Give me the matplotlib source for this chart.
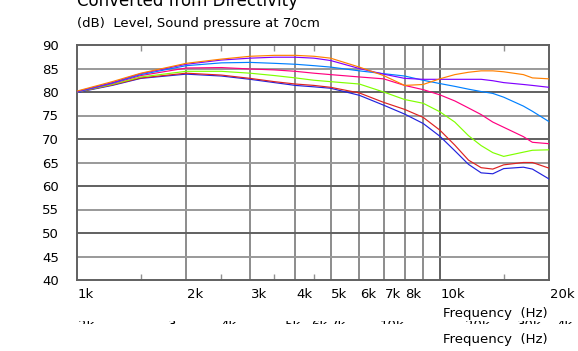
import matplotlib
matplotlib.use('Agg')
import matplotlib.pyplot as plt

# frequency points (Hz) and levels (dB)
freq = [1000, 1250, 1500, 2000, 2500, 3000, 3500, 4000, 4500, 5000, 6000, 7000,
        8000, 9000, 10000, 11000, 12000, 13000, 14000, 15000, 17000, 18000, 20000]

orange = [80.2, 82.2, 84.0, 86.1, 87.0, 87.6, 87.8, 87.8, 87.6, 87.2, 85.3, 83.5,
          81.4, 81.6, 82.8, 83.7, 84.2, 84.5, 84.5, 84.3, 83.7, 83.0, 82.8]
purple = [80.1, 82.0, 83.9, 85.9, 86.8, 87.2, 87.4, 87.4, 87.2, 86.7, 85.0, 83.8,
          82.9, 82.7, 82.7, 82.7, 82.7, 82.7, 82.4, 82.0, 81.6, 81.4, 81.0]
blue = [80.0, 81.9, 83.7, 85.6, 86.2, 86.3, 86.1, 85.9, 85.6, 85.3, 84.5, 83.9,
        83.4, 82.5, 81.8, 81.2, 80.6, 80.1, 79.7, 78.9, 77.0, 75.9, 73.7]
pink = [80.0, 81.8, 83.5, 85.1, 85.2, 84.9, 84.7, 84.4, 84.0, 83.7, 83.2, 82.8,
        81.4, 80.5, 79.4, 78.1, 76.6, 75.2, 73.6, 72.5, 70.5, 69.3, 69.0]
green = [80.0, 81.6, 83.2, 84.4, 84.4, 84.0, 83.5, 83.0, 82.5, 82.2, 81.7, 80.0,
         78.4, 77.6, 75.8, 73.6, 70.7, 68.6, 67.1, 66.3, 67.2, 67.6, 67.7]
red = [80.0, 81.5, 83.0, 84.0, 83.6, 82.9, 82.2, 81.7, 81.4, 81.0, 79.8, 77.8,
       76.3, 74.6, 71.9, 68.7, 65.5, 63.9, 63.6, 64.5, 65.0, 65.0, 63.8]
navy = [79.9, 81.4, 82.9, 83.8, 83.4, 82.7, 82.0, 81.4, 81.1, 80.8, 79.3, 77.2,
        75.3, 73.3, 70.6, 67.5, 64.6, 62.8, 62.6, 63.7, 64.0, 63.6, 61.5]

series = [navy, red, green, pink, blue, purple, orange]
colors = ['#2222dd', '#dd2222', '#80ff00', '#ff0080', '#0080ff', '#8000ff', '#ff8000']

xticks = [1000, 2000, 3000, 4000, 5000, 6000, 7000, 8000, 10000, 20000]
xlabels = ['1k', '2k', '3k', '4k', '5k', '6k', '7k', '8k', '10k', '20k']
minor_x = [1500, 2500, 3500, 4500, 15000]
yticks = list(range(40, 91, 5))

# second (hidden) label row: only the top strip of it shows
row2_x = [78, 168, 220, 261, 285, 311, 330, 380, 465, 517, 556]
row2_lab = ['2k', '3', '4k', '..', '5k', '6k', '7k', '10k', '20k', '30k', '4k']

fig = plt.figure(figsize=(5.78, 3.51), dpi=100)
ax = fig.add_axes([77/578, 71/351, 472/578, 235/351])
ax.set_xscale('log')
ax.set_xlim(1000, 20000)
ax.set_ylim(40, 90)

# grid
for f in [2000, 3000, 4000, 5000, 6000, 7000, 8000, 9000]:
    ax.axvline(f, color='#8c8c8c', lw=1.4, zorder=1)
ax.axvline(10000, color='#606060', lw=1.4, zorder=1)
for y in yticks[1:-1]:
    c = '#606060' if y % 10 == 0 else '#999999'
    ax.axhline(y, color=c, lw=1.4, zorder=1)

for vals, c in zip(series, colors):
    ax.plot(freq, vals, color=c, lw=0.85, zorder=3)

for s in ax.spines.values():
    s.set_color('#606060')
    s.set_linewidth(1.4)

ax.set_yticks(yticks)
ax.set_yticklabels([str(v) for v in yticks], fontsize=9.5)
ax.tick_params(axis='y', length=0, pad=13)

ax.set_xticks(xticks)
ax.set_xticklabels([])
ax.set_xticks(minor_x, minor=True)
ax.xaxis.set_minor_formatter(plt.NullFormatter())
ax.tick_params(axis='x', which='major', length=0)
ax.tick_params(axis='x', which='minor', direction='in', length=4, width=1,
               color='#909090', top=True, bottom=True)

for f, lab in zip(xticks, xlabels):
    ax.text(f * 1.005, 38.3, lab, fontsize=9.5, ha='left', va='top')

fig.text(443/578, 1 - 317/351, 'Frequency  (Hz)', fontsize=9.5, va='baseline')
fig.text(443/578, 1 - 343/351, 'Frequency  (Hz)', fontsize=9.5, va='baseline')

strip = fig.add_axes([0, 1 - 324/351, 1, 3.5/351])
strip.axis('off')
strip.set_xlim(0, 578)
strip.set_ylim(0, 1)
for x, lab in zip(row2_x, row2_lab):
    strip.text(x, 1.4, lab, fontsize=9.5, va='top', clip_on=True)

fig.text(77/578, 1 - 6/351, 'Converted from Directivity', fontsize=12, va='baseline')
fig.text(77/578, 1 - 27/351, '(dB)  Level, Sound pressure at 70cm', fontsize=9.5, va='baseline')

fig.savefig('out.png', dpi=100)
